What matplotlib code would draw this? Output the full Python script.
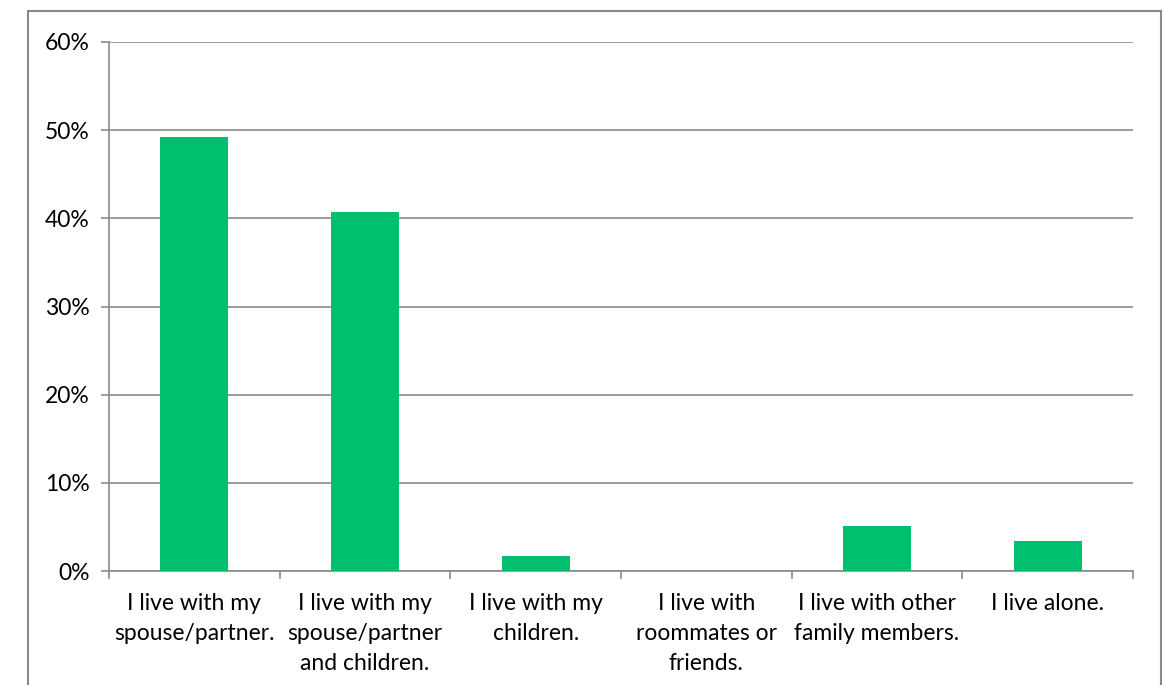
import matplotlib.pyplot as plt
from matplotlib.lines import Line2D
from matplotlib.ticker import PercentFormatter, FixedLocator
import numpy as np

categories = ["I live with my\nspouse/partner.",
              "I live with my\nspouse/partner\nand children.",
              "I live with my\nchildren.",
              "I live with\nroommates or\nfriends.",
              "I live with other\nfamily members.",
              "I live alone."]
shares = [0.492, 0.407, 0.017, 0.0, 0.051, 0.034]
yticks = [0, 0.1, 0.2, 0.3, 0.4, 0.5, 0.6]

plt.rcParams['font.family'] = ['Lato', 'DejaVu Sans']

W, H = 1163, 685
fig = plt.figure(figsize=(W / 100, H / 100), dpi=100)
ax = fig.add_axes([109 / W, 1 - 571 / H, (1133 - 109) / W, (571 - 42) / H])

gray = '#8a8a8a'
x = np.arange(len(categories))
ax.bar(x, shares, width=0.4, color='#00bf6f', zorder=3)

ax.set_xlim(-0.5, len(categories) - 0.5)
ax.set_ylim(0, 0.6)
ax.set_yticks(yticks)
ax.yaxis.set_major_formatter(PercentFormatter(1.0, decimals=0))
ax.grid(axis='y', color=gray, lw=1.2, zorder=0)

ax.set_xticks(x)
ax.set_xticklabels(categories, fontsize=16.5, linespacing=1.52)
ax.xaxis.set_minor_locator(FixedLocator(np.arange(-0.5, len(categories), 1)))
ax.tick_params(axis='x', which='major', length=0, pad=16)
ax.tick_params(axis='x', which='minor', length=6, color=gray, width=1.2)
ax.tick_params(axis='y', length=6, color=gray, width=1.2, labelsize=16.5, pad=8)

for s in ['top', 'right']:
    ax.spines[s].set_visible(False)
for s in ['left', 'bottom']:
    ax.spines[s].set_color(gray)
    ax.spines[s].set_linewidth(1.2)

# outer chart border (bottom edge lies outside the picture)
bx0, by0, bx1 = 28 / W, 1 - 11 / H, 1161 / W
for xs, ys in [([bx0, bx0], [0, by0]), ([bx0, bx1], [by0, by0]), ([bx1, bx1], [by0, 0])]:
    fig.add_artist(Line2D(xs, ys, color=gray, lw=1.5, transform=fig.transFigure))

fig.savefig('out.png', dpi=100)
